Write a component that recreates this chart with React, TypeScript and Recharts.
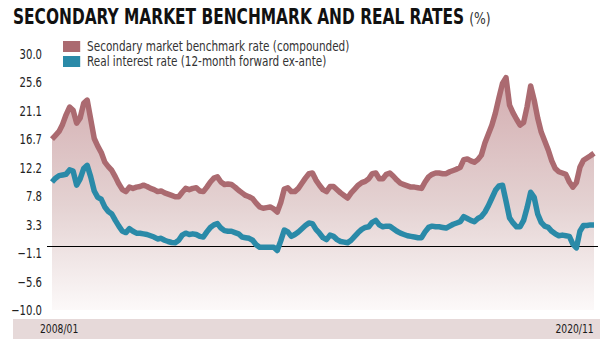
import React from 'react';
import { ComposedChart, Area, Line, XAxis, YAxis, ReferenceLine } from 'recharts';

// monthly, 2008/01 .. 2020/11
const benchmark = [
  16.7, 17.3, 17.9, 19.0, 20.5, 21.7, 21.2, 19.2, 20.0, 22.3, 22.8, 19.8,
  16.8, 15.6, 14.6, 13.1, 12.4, 11.8, 10.8, 9.7, 8.8, 8.5, 9.2, 9.0,
  9.2, 9.3, 9.5, 9.3, 9.0, 8.8, 8.5, 8.6, 8.3, 8.1, 7.9, 7.7,
  7.7, 8.4, 9.0, 8.8, 9.0, 9.1, 8.6, 8.5, 9.2, 10.0, 10.6, 10.8,
  10.0, 9.6, 9.7, 9.6, 9.2, 8.7, 8.3, 7.9, 7.7, 7.4, 6.7, 6.1,
  5.9, 6.0, 6.1, 5.8, 5.3, 6.8, 8.9, 9.1, 8.5, 8.5, 9.0, 9.8,
  10.6, 11.3, 11.4, 10.3, 9.5, 8.8, 8.5, 9.3, 9.3, 8.8, 8.3, 7.9,
  7.5, 8.3, 8.9, 9.5, 9.9, 10.1, 10.5, 11.3, 11.4, 10.5, 10.5, 11.2,
  11.4, 10.9, 10.3, 9.8, 9.6, 9.4, 9.2, 9.2, 9.1, 9.0, 10.0, 10.8,
  11.2, 11.4, 11.4, 11.3, 11.3, 11.6, 11.8, 12.0, 12.3, 13.5, 13.6, 13.3,
  13.1, 13.5, 14.2, 16.1, 17.5, 18.9, 20.8, 23.2, 25.4, 26.3, 22.0, 20.8,
  19.8, 18.9, 19.3, 21.8, 25.0, 22.8, 20.0, 17.8, 16.4, 15.0, 13.3, 12.1,
  11.6, 11.4, 11.2, 10.0, 9.2, 9.9, 12.3, 13.4, 13.75, 14.1, 14.5,
];

const realRate = [
  10.0, 10.6, 11.0, 11.1, 11.2, 11.9, 11.7, 9.5, 10.5, 12.1, 12.6, 10.8,
  8.6, 7.6, 7.3, 6.1, 5.4, 5.0, 4.0, 3.1, 2.3, 2.1, 2.7, 2.3,
  2.0, 2.0, 1.9, 1.8, 1.6, 1.4, 1.1, 1.2, 0.9, 0.7, 0.55, 0.5,
  0.9, 1.7, 2.0, 1.8, 1.9, 1.8, 1.5, 1.4, 2.2, 2.9, 3.3, 3.5,
  2.8, 2.4, 2.3, 2.3, 2.1, 1.9, 1.4, 1.3, 1.2, 0.9, 0.2, -0.2,
  -0.2, -0.2, -0.2, -0.2, -0.7, 0.8, 2.5, 2.2, 1.5, 1.8, 2.2, 2.7,
  3.2, 3.6, 3.5, 2.6, 2.0, 1.3, 1.0, 1.7, 1.5, 1.0, 0.7, 0.6,
  0.5, 0.9, 1.5, 2.1, 2.6, 2.9, 3.0, 3.7, 4.0, 3.3, 3.0, 3.1,
  3.1, 2.7, 2.3, 2.0, 1.8, 1.6, 1.5, 1.4, 1.3, 1.3, 2.2, 2.9,
  3.1, 3.0, 3.0, 2.9, 2.8, 3.1, 3.4, 3.6, 3.8, 4.6, 4.3, 4.0,
  3.8, 4.3, 4.6, 5.3, 6.3, 7.5, 8.7, 9.4, 9.5, 7.0, 4.4, 3.6,
  3.0, 3.0, 4.0, 6.0, 8.4, 7.6, 5.0, 3.7, 3.1, 2.9, 2.3, 1.9,
  1.6, 1.7, 1.6, 1.5, 0.3, -0.3, 2.3, 3.2, 3.2, 3.3, 3.3,
];

const months: string[] = [];
for (let y = 2008; y <= 2020; y++) {
  for (let m = 1; m <= 12; m++) {
    if (y === 2020 && m > 11) break;
    months.push(`${y}/${String(m).padStart(2, '0')}`);
  }
}

const yTicks = [30, 25.56, 21.11, 16.67, 12.22, 7.78, 3.33, -1.11, -5.56, -10];
const xLabels = ['2008/01', '2020/11'];

const seriesNames = [
  'Secondary market benchmark rate (compounded)',
  'Real interest rate (12-month forward ex-ante)',
];

const RED = '#ab6a70';
const BLUE = '#2a8aa8';
const FONT = '"DejaVu Sans Condensed", "Liberation Sans Narrow", sans-serif';

const data = months.map((m, i) => ({ month: m, bench: benchmark[i], real: realRate[i] }));

const fmt = (v: number) => v.toFixed(1).replace('-', '\u2212');

// squeeze the tick text horizontally so it looks like the condensed original
const YTick = (props: any) => {
  const { x, y, payload } = props;
  return (
    <text
      transform={`translate(${x},${y}) scale(0.8,1)`}
      textAnchor="end"
      dominantBaseline="central"
      fontSize={14}
      fill="#222"
      fontFamily={FONT}
    >
      {fmt(payload.value)}
    </text>
  );
};

export default function App() {
  return (
    <div style={{ position: 'fixed', left: 0, top: 0, width: 611, height: 354, background: '#fff', fontFamily: FONT }}>
      <div
        style={{
          position: 'absolute', left: 13, top: 5, whiteSpace: 'nowrap', color: '#111',
          transform: 'scaleX(0.835)', transformOrigin: 'left center',
        }}
      >
        <span style={{ fontSize: 20.5, fontWeight: 700 }}>SECONDARY MARKET BENCHMARK AND REAL RATES</span>
        <span style={{ fontSize: 16.5, color: '#333', marginLeft: 6 }}>(%)</span>
      </div>

      <div style={{ position: 'absolute', left: 13, top: 319, width: 587, height: 20, background: '#e6d9d9' }} />
      <div style={{ position: 'absolute', left: 40, top: 321, fontSize: 12.5, color: '#1a1a1a', transform: 'scaleX(0.82)', transformOrigin: 'left center' }}>
        {xLabels[0]}
      </div>
      <div style={{ position: 'absolute', right: 611 - 594, top: 321, fontSize: 12.5, color: '#1a1a1a', transform: 'scaleX(0.82)', transformOrigin: 'right center' }}>
        {xLabels[1]}
      </div>

      <div style={{ position: 'absolute', left: 0, top: 0 }}>
        <ComposedChart width={611} height={354} data={data} margin={{ top: 54, right: 13, bottom: 44, left: 0 }}>
          <defs>
            <linearGradient id="benchFill" x1="0" y1="0" x2="0" y2="1">
              <stop offset="0%" stopColor="#d3adb0" />
              <stop offset="55%" stopColor="#e4d2d2" />
              <stop offset="100%" stopColor="#fcf9f9" />
            </linearGradient>
          </defs>
          <XAxis dataKey="month" hide padding={{ left: 5, right: 4 }} />
          <YAxis
            domain={[-10, 30]}
            ticks={yTicks}
            interval={0}
            width={47}
            axisLine={false}
            tickLine={false}
            tickSize={3}
            tickMargin={2}
            tick={<YTick />}
          />
          <Area
            type="linear"
            dataKey="bench"
            baseValue={-10}
            stroke={RED}
            strokeWidth={5.5}
            strokeLinejoin="round"
            fill="url(#benchFill)"
            fillOpacity={1}
            isAnimationActive={false}
          />
          <ReferenceLine y={0} stroke="#000" strokeWidth={1} shapeRendering="crispEdges" />
          <Line
            type="linear"
            dataKey="real"
            stroke={BLUE}
            strokeWidth={5.5}
            strokeLinejoin="round"
            dot={false}
            isAnimationActive={false}
          />
        </ComposedChart>
      </div>

      <div
        style={{
          position: 'absolute', left: 63, top: 39, fontSize: 13.5, color: '#333', lineHeight: '15px',
          transform: 'scaleX(0.86)', transformOrigin: 'left center',
        }}
      >
        {seriesNames.map((name, i) => (
          <div key={name} style={{ display: 'flex', alignItems: 'center', whiteSpace: 'nowrap' }}>
            <span style={{ display: 'inline-block', width: 20, height: 11, background: i === 0 ? RED : BLUE, marginRight: 8 }} />
            {name}
          </div>
        ))}
      </div>
    </div>
  );
}
